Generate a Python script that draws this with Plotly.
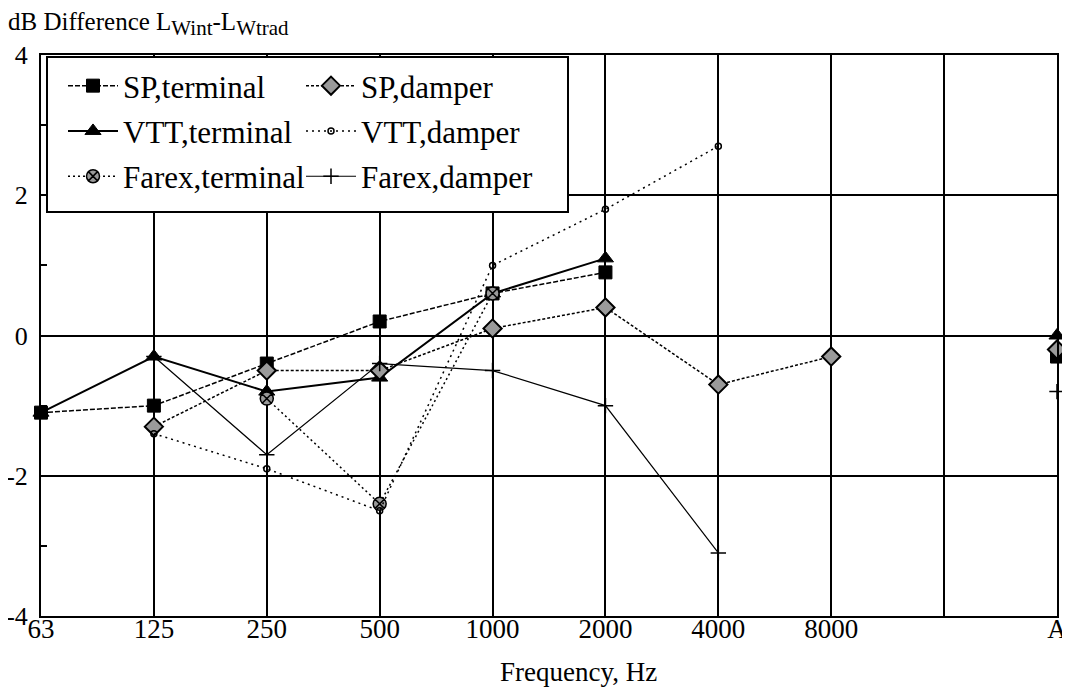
import plotly.graph_objects as go

freq_labels = ["63", "125", "250", "500", "1000", "2000", "4000", "8000", " ", "A"]

sp_terminal = [-1.1, -1.0, -0.4, 0.2, 0.6, 0.9, None, None, None, -0.3]
vtt_terminal = [-1.1, -0.3, -0.8, -0.6, 0.6, 1.1, None, None, None, 0.0]
farex_terminal = [None, None, -0.9, -2.4, 0.6, None, None, None, None, None]
sp_damper = [None, -1.3, -0.5, -0.5, 0.1, 0.4, -0.7, -0.3, None, -0.2]
vtt_damper = [None, -1.4, -1.9, -2.5, 1.0, 1.8, 2.7, None, None, None]
farex_damper = [None, -0.3, -1.7, -0.4, -0.5, -1.0, -3.1, None, None, -0.8]

y_ticks = [-4, -2, 0, 2, 4]
y_tick_text = ["-4", "-2", "0", "2", "4"]

FONT = "Liberation Serif"

fig = go.Figure()

def add(name, y, dash, width, symbol, size, mcolor, lwidth, legend, group):
    fig.add_trace(go.Scatter(
        x=freq_labels, y=y, name=name, mode="lines+markers",
        line=dict(color="black", width=width, dash=dash),
        marker=dict(symbol=symbol, size=size, color=mcolor,
                    line=dict(color="black", width=lwidth)),
        legend=legend, legendgroup=group, connectgaps=False,
        cliponaxis=False,
    ))

add("SP,terminal", sp_terminal, "5px,2px", 1.5, "square", 13, "black", 1, "legend", "g1")
add("VTT,terminal", vtt_terminal, "solid", 2, "triangle-up", 14, "black", 1, "legend", "g2")
add("Farex,terminal", farex_terminal, "2px,3px", 1.5, "circle-x", 13, "#9a9a9a", 1.5, "legend", "g3")
add("SP,damper", sp_damper, "3px,2px", 1.5, "diamond", 14, "#9a9a9a", 2, "legend2", "g4")
add("VTT,damper", vtt_damper, "2px,4px", 1.5, "circle-open", 6, "black", 1.5, "legend2", "g5")
add("Farex,damper", farex_damper, "solid", 1.2, "cross-thin-open", 11, "black", 1.5, "legend2", "g6")

# page body has an 8px offset; figure is sized so plot area lands at
# x 41..1057, y 55..616 in the browser window
OFF = 8
W, H = 1070 - OFF, 697 - 2 * OFF
L, R, T = 41 - OFF, 13, 55 - OFF
B = H - (616 - OFF)
pw, ph = W - L - R, H - T - B

def px_x(p):
    return (p - OFF - L) / pw

def px_y(p):
    return 1 - (p - OFF - T) / ph

legend_common = dict(
    xanchor="left", yanchor="top", bgcolor="rgba(0,0,0,0)", borderwidth=0,
    font=dict(family=FONT, size=31, color="black"), itemwidth=50,
    tracegroupgap=2, traceorder="grouped", orientation="v",
)

fig.update_layout(
    width=W, height=H,
    margin=dict(l=L, r=R, t=T, b=B, autoexpand=False),
    paper_bgcolor="white", plot_bgcolor="white",
    font=dict(family=FONT, size=27, color="black"),
    showlegend=True,
    legend=dict(x=px_x(63), y=px_y(59), **legend_common),
    legend2=dict(x=px_x(301), y=px_y(59), **legend_common),
    title=dict(text="dB Difference L<sub><span style='font-size:21px'>Wint</span></sub>"
                    "-L<sub><span style='font-size:21px'>Wtrad</span></sub>",
               x=0, xanchor="left", xref="container",
               y=1 - (21 - OFF) / H, yanchor="middle", yref="container",
               automargin=False,
               font=dict(family=FONT, size=25, color="black")),
    xaxis=dict(
        type="category", categoryorder="array", categoryarray=freq_labels,
        range=[0, 9], tickvals=freq_labels, ticktext=freq_labels,
        showgrid=True, gridcolor="black", gridwidth=2,
        showline=True, linecolor="black", linewidth=2, mirror=True,
        ticks="", zeroline=False, automargin=False, ticklabelstandoff=-12,
        tickfont=dict(family=FONT, size=27, color="black"),
    ),
    yaxis=dict(
        range=[-4, 4], tickvals=y_ticks, ticktext=y_tick_text,
        showgrid=True, gridcolor="black", gridwidth=1.5,
        showline=True, linecolor="black", linewidth=2, mirror=True,
        zeroline=False, ticks="", automargin=False, ticklabelstandoff=6,
        minor=dict(tickvals=[-3, -1, 1, 3], ticks="inside", ticklen=6,
                   tickcolor="black", tickwidth=1.5, showgrid=False),
        tickfont=dict(family=FONT, size=26, color="black"),
    ),
    annotations=[dict(text="Frequency, Hz", xref="paper", yref="paper",
                      x=px_x(578), y=px_y(689), xanchor="center", yanchor="bottom",
                      showarrow=False,
                      font=dict(family=FONT, size=27, color="black"))],
    shapes=[dict(type="rect", xref="paper", yref="paper",
                 x0=px_x(47), x1=px_x(568), y0=px_y(212), y1=px_y(57),
                 fillcolor="white", line=dict(color="black", width=2),
                 layer="above")],
)

fig.write_html("out.html")
